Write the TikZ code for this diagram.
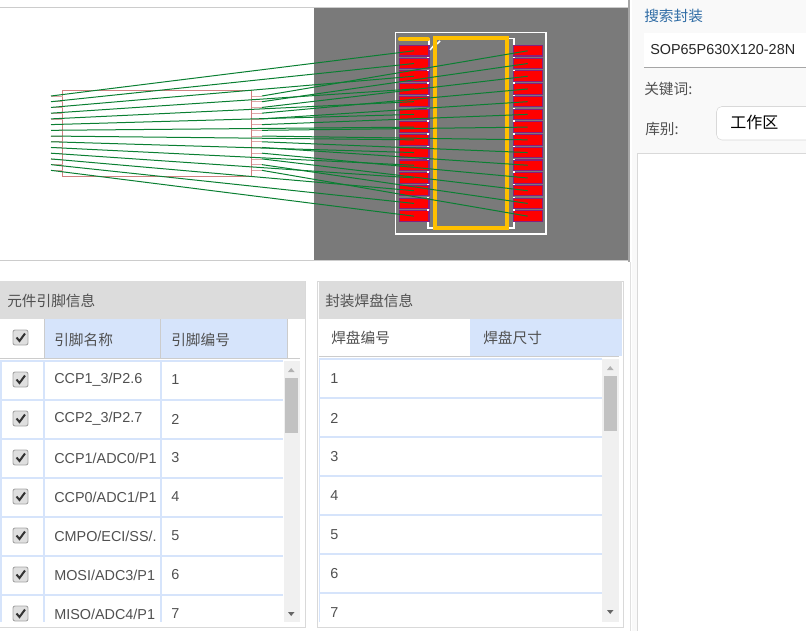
\documentclass[tikz,border=0pt]{standalone}
\usepackage{fontspec}
\setmainfont{Liberation Sans}
\newfontfamily\cjk{Noto Sans CJK SC}
\definecolor{panelgray}{HTML}{DCDCDC}
\definecolor{rowblue}{HTML}{D6E4FB}
\definecolor{padred}{HTML}{FF0000}
\definecolor{padpurple}{HTML}{86207E}
\definecolor{wiregreen}{HTML}{0A7F32}
\definecolor{silkyellow}{HTML}{FFC000}
\definecolor{boardgray}{HTML}{7A7A7A}
\definecolor{symbred}{HTML}{D08080}
\definecolor{textgray}{HTML}{505050}
\definecolor{linkblue}{HTML}{2F6CA5}
\tikzset{
  cntext/.style={inner sep=0pt,anchor=west,text=textgray,font=\cjk\fontsize{11}{13}\selectfont},
  rowtext/.style={inner sep=0pt,anchor=west,text=textgray,font=\fontsize{10.8}{13}\selectfont},
  rowline/.style={rowblue,line width=1.5pt},
  pad/.style={fill=padred,draw=padpurple,line width=0.8pt},
  wire/.style={wiregreen,line width=0.75pt},
  silk/.style={white,line width=1.1pt},
  outline/.style={silkyellow,line width=3pt},
  checkbox/.style={rounded corners=1.5pt,fill=gray!25,draw=gray!70,line width=0.7pt},
  thumb/.style={fill=black!24},
  scrollbg/.style={fill=black!6}
}
\begin{document}
\begin{tikzpicture}[x=0.75pt,y=-0.75pt]
  \useasboundingbox (0,0) rectangle (806,631);
  \clip (0,0) rectangle (806,631);

  % Draw the top panel
  \draw[black!20] (0,7.5) -- (628,7.5);
  \draw[black!20] (0,260.5) -- (628,260.5);
  \fill[boardgray] (314,8) rectangle (628,260);
  \draw[black!35,line width=1.5pt] (628.5,0) -- (628.5,262);

  % Draw the symbol outline and its pins
  \draw[symbred] (62.5,90.5) rectangle (251.5,176.5);
  \foreach \i in {0,...,13} {
    \coordinate (pinL\i) at (51,96+5.72*\i);
    \coordinate (pinR\i) at (262,96+5.72*\i);
    \draw[symbred!70] (pinL\i) -- (62.5,96+5.72*\i);
    \draw[symbred!70] (251.5,96+5.72*\i) -- (pinR\i);
  }

  % Draw the board outline and the pads
  \draw[white,line width=0.9pt] (395.5,32.5) rectangle (546,234);
  \foreach \i in {0,...,13} {
    \draw[pad] (399.5,45.5+12.72*\i) rectangle (429,56+12.72*\i);
    \draw[pad] (513.5,45.5+12.72*\i) rectangle (542.5,56+12.72*\i);
    \coordinate (padL\i) at (414,50.8+12.72*\i);
    \coordinate (padR\i) at (527.7,50.8+12.72*\i);
  }

  % Draw the silkscreen
  \foreach \i in {0,...,12} {
    \draw[silk] (428,56.8+12.72*\i) -- (428,58.2+12.72*\i);
    \draw[silk] (514,56.8+12.72*\i) -- (514,58.2+12.72*\i);
  }
  \draw[silk] (429,38) -- (429,45);
  \draw[silk] (430,50) -- (435,44);
  \draw[silk] (437,44) -- (440,41);
  \draw[silk] (507,38.5) -- (514,38.5) -- (514,45);
  \draw[silk] (428,222) -- (428,228) -- (435,228);
  \draw[silk] (507,228) -- (514,228) -- (514,222);
  \draw[outline] (435,37.7) rectangle (507,228.3);
  \draw[outline,line cap=round] (400,39.3) -- (428,39.3);

  % Draw the wires from pins to pads
  \foreach \i in {0,...,13} {
    \draw[wire] (pinL\i) -- (padL\i);
    \draw[wire] (pinR\i) -- (padR\i);
  }

  % Draw the left table
  \draw[black!15] (0,627) -- (305,627) -- (305,281);
  \fill[panelgray] (0,281) rectangle (304.5,319);
  \node[cntext] (pinTitle) at (7,301) {元件引脚信息};
  \fill[rowblue] (44,319) rectangle (287,358);
  \draw[black!20] (44.5,319) -- (44.5,358);
  \draw[black!20] (160.5,319) -- (160.5,358);
  \draw[black!20] (287.5,319) -- (287.5,358);
  \draw[black!20] (0,358.5) -- (300,358.5);
  \node[cntext] (pinNameHead) at (54,340) {引脚名称};
  \node[cntext] (pinNumHead) at (171,340) {引脚编号};
  \draw[checkbox] (13,330) rectangle (28,345);
  \draw[black!80,line width=1.5pt] (16.5,337.5) -- (19.5,341) -- (25,333.5);
  \fill[scrollbg] (283.5,361) rectangle (300,622);
  \fill[thumb] (285,378) rectangle (298,433);
  \fill[black!30] (288,372) -- (294.5,372) -- (291.2,368) -- cycle;
  \fill[black!60] (288,612) -- (294.5,612) -- (291.2,616) -- cycle;
  \foreach \y in {361,400,439,478,517,556,595}
    \draw[rowline] (0,\y) -- (283,\y);
  \foreach \x in {0.5,44,160.5}
    \draw[rowline] (\x,361) -- (\x,622);
  \foreach \i/\name in {1/{CCP1\_3/P2.6},2/{CCP2\_3/P2.7},3/{CCP1/ADC0/P1},4/{CCP0/ADC1/P1},5/{CMPO/ECI/SS/.},6/{MOSI/ADC3/P1},7/{MISO/ADC4/P1}} {
    \draw[checkbox] (13,372+39*\i-39) rectangle (28,387+39*\i-39);
    \draw[black!80,line width=1.5pt] (16.5,379.5+39*\i-39) -- (19.5,383+39*\i-39) -- (25,375.5+39*\i-39);
    \node[rowtext] (pinName\i) at (54,380+39*\i-39) {\name};
    \node[rowtext] (pinNum\i) at (171,380+39*\i-39) {\i};
  }

  % Draw the right table
  \draw[black!15] (317.5,281) -- (317.5,627) -- (623,627) -- (623,281) -- cycle;
  \fill[panelgray] (319,281) rectangle (621.5,319);
  \node[cntext] (padTitle) at (325,301) {封装焊盘信息};
  \fill[rowblue] (469.5,319) rectangle (621.5,356);
  \draw[black!20] (319,356.5) -- (619,356.5);
  \node[cntext] (padNumHead) at (331,338) {焊盘编号};
  \node[cntext] (padSizeHead) at (483,338) {焊盘尺寸};
  \fill[scrollbg] (602,359) rectangle (619,622);
  \fill[thumb] (604,376) rectangle (617,431);
  \fill[black!30] (607,370) -- (613.5,370) -- (610.2,366) -- cycle;
  \fill[black!60] (607,610) -- (613.5,610) -- (610.2,614) -- cycle;
  \foreach \y in {359,398,437,476,515,554,593}
    \draw[rowline] (319,\y) -- (602,\y);
  \draw[rowline,line width=0.8pt] (319.5,359) -- (319.5,622);
  \foreach \i in {1,...,7}
    \node[rowtext] (padNum\i) at (330,379+39*\i-39) {\i};

  % Draw the search pane
  \fill[black!2.5] (632,0) rectangle (806,631);
  \draw[black!12] (630.5,262) -- (630.5,631);
  \node[cntext,text=linkblue] (searchTitle) at (644,16) {搜索封装};
  \fill[white] (644,33) rectangle (806,67);
  \draw[black!35] (644,67.5) -- (806,67.5);
  \node[rowtext,text=black!85] (searchBox) at (650,50) {SOP65P630X120-28N};
  \node[cntext] (keyword) at (644,89) {关键词:};
  \node[cntext] (library) at (645,129) {库别:};
  \draw[black!15,fill=white,rounded corners=4pt] (716.5,106.5) rectangle (820,140);
  \node[cntext,text=black,font=\cjk\fontsize{12}{14}\selectfont] (libraryValue) at (730,122) {工作区};
  \draw[black!15,fill=white] (637.5,153.5) rectangle (820,640);
\end{tikzpicture}
\end{document}
